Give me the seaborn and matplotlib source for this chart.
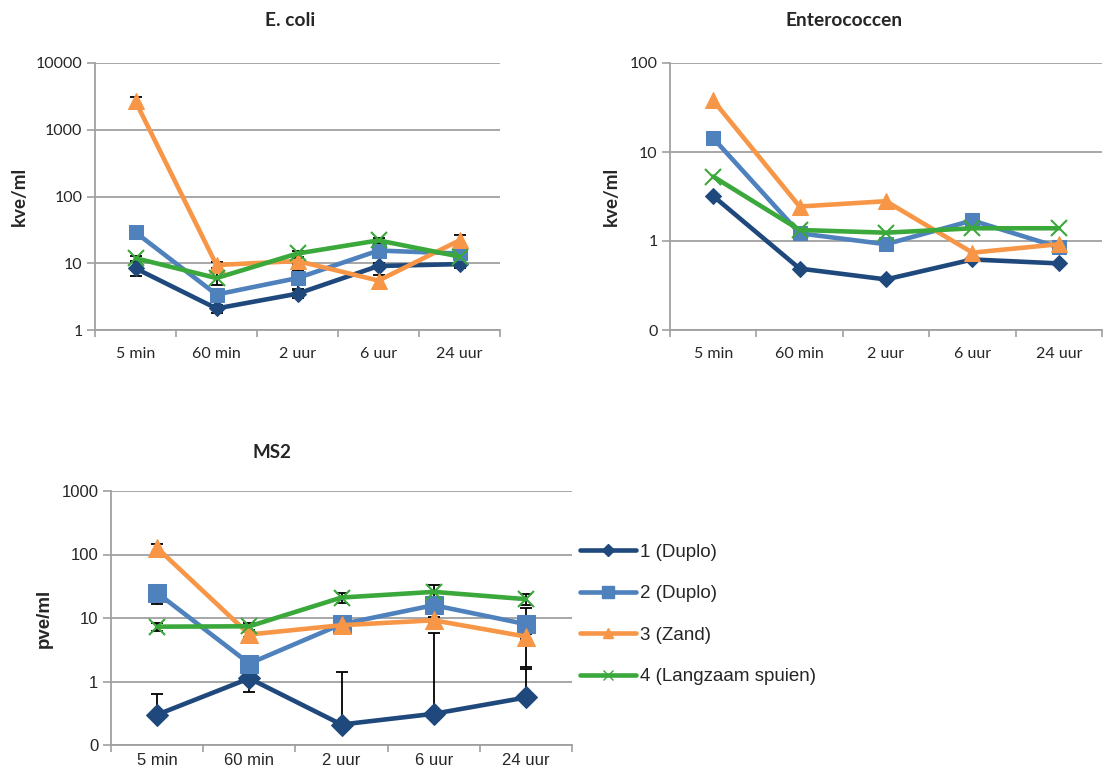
import numpy as np
import pandas as pd
import matplotlib
matplotlib.use("Agg")
import matplotlib.pyplot as plt
import seaborn as sns
from matplotlib.lines import Line2D

sns.set_theme(style="white")
plt.rcParams['font.family'] = ['Lato', 'DejaVu Sans']

categories = ["5 min", "60 min", "2 uur", "6 uur", "24 uur"]
series_names = ["1 (Duplo)", "2 (Duplo)", "3 (Zand)", "4 (Langzaam spuien)"]

# E. coli (kve/ml)
ecoli_1 = [8.4, 2.1, 3.5, 9.1, 9.7]
ecoli_2 = [29, 3.4, 6.0, 15.5, 14]
ecoli_3 = [2660, 9.4, 10.8, 5.5, 22]
ecoli_4 = [11.9, 6.0, 14, 22, 12.6]
ecoli_err_1 = [2.0, 0.3, 0.5, 1.0, 1.1]
ecoli_err_2 = [3, 0.5, 1.9, 2, 2]
ecoli_err_3 = [470, 1, 1, 1.2, 4.5]
ecoli_err_4 = [1, 1.2, 1.4, 2, 1]

# Enterococcen (kve/ml)
entero_1 = [3.2, 0.49, 0.37, 0.62, 0.56]
entero_2 = [14.3, 1.22, 0.92, 1.7, 0.85]
entero_3 = [38, 2.44, 2.8, 0.74, 0.92]
entero_4 = [5.3, 1.33, 1.24, 1.39, 1.39]

# MS2 (pve/ml)
ms2_1 = [0.30, 1.12, 0.21, 0.31, 0.56]
ms2_2 = [24.9, 1.92, 8.0, 15.9, 8.0]
ms2_3 = [127, 5.5, 7.7, 9.2, 5.1]
ms2_4 = [7.3, 7.4, 21, 25.8, 19.8]
ms2_err_1 = [0.33, 0.43, 1.21, 5.6, 1.0]
ms2_err_2 = [8, 0.3, 1, 3, 6.3]
ms2_err_3 = [18, 0.5, 1, 1, 0.5]
ms2_err_4 = [1, 1, 4, 7, 4]

colors = ["#1F497D", "#4F81BD", "#F79646", "#3BA83B"]
markers = ["D", "s", "^", "x"]

W, H = 1109, 776
fig = plt.figure(figsize=(W / 100, H / 100), dpi=100)

def px_axes(l, t, r, b):
    return fig.add_axes([l / W, 1 - b / H, (r - l) / W, (b - t) / H])

def style_axes(ax, ylim, yticks, yticklabels, font, fs):
    ax.set_yscale("log")
    ax.set_ylim(*ylim)
    ax.set_xlim(-0.5, 4.5)
    ax.set_yticks(yticks)
    ax.set_yticklabels(yticklabels, fontfamily=font, fontsize=fs)
    ax.yaxis.set_minor_locator(matplotlib.ticker.NullLocator())
    ax.set_xticks(range(len(categories)))
    ax.set_xticklabels(categories, fontfamily=font, fontsize=fs)
    ax.set_xticks(np.arange(-0.5, 5, 1.0), minor=True)
    ax.tick_params(axis="x", which="major", length=0, pad=12)
    ax.tick_params(axis="x", which="minor", length=5, color="#A0A0A0", width=1.2, direction="out", bottom=True)
    ax.tick_params(axis="y", which="major", length=6, color="#A0A0A0", width=1.2, direction="out", left=True, pad=3)
    for s in ["top", "right"]:
        ax.spines[s].set_visible(False)
    for s in ["left", "bottom"]:
        ax.spines[s].set_color("#A0A0A0")
        ax.spines[s].set_linewidth(1.3)
    ax.grid(axis="y", color="#A0A0A0", linewidth=1.3)
    ax.set_axisbelow(True)
    ax.set_xlabel("")

def draw_series(ax, data, errs, sizes, lw=3.3):
    x = np.arange(len(categories))
    for i, vals in enumerate(data):
        vals = np.array(vals, dtype=float)
        if errs is not None:
            e = np.array(errs[i], dtype=float)
            lower = np.where(e >= vals, 0.0, e)
            ax.errorbar(x, vals, yerr=[lower, e], fmt="none", ecolor="black",
                        elinewidth=1.3, capsize=4, capthick=1.3, zorder=2 + i * 0.1)
        df = pd.DataFrame({"x": x, "y": vals})
        mk = markers[i]
        kw = dict(markersize=sizes[i], markeredgecolor=colors[i], markerfacecolor=colors[i])
        if mk == "x":
            kw["markeredgewidth"] = 1.5
        sns.lineplot(data=df, x="x", y="y", ax=ax, color=colors[i], linewidth=lw,
                     marker=mk, zorder=3 + i, legend=False, **kw)

LAT = "Lato"
LIB = "Liberation Sans"

# E. coli
ax1 = px_axes(95, 63, 500, 330)
draw_series(ax1, [ecoli_1, ecoli_2, ecoli_3, ecoli_4],
            [ecoli_err_1, ecoli_err_2, ecoli_err_3, ecoli_err_4], [8, 10, 11, 11])
style_axes(ax1, (1, 10000), [1, 10, 100, 1000, 10000], ["1", "10", "100", "1000", "10000"], LAT, 11.5)
ax1.set_ylabel("kve/ml", fontweight="bold", fontsize=13.5, fontfamily=LAT, labelpad=6)
fig.text(290 / W, 1 - 20 / H, "E. coli", ha="center", va="center", fontweight="bold", fontsize=13.8, fontfamily=LAT)

# Enterococcen
ax2 = px_axes(670, 63, 1102, 330)
draw_series(ax2, [entero_1, entero_2, entero_3, entero_4], None, [8, 10, 11, 11])
style_axes(ax2, (0.1, 100), [0.1, 1, 10, 100], ["0", "1", "10", "100"], LAT, 11.5)
ax2.set_ylabel("kve/ml", fontweight="bold", fontsize=13.5, fontfamily=LAT, labelpad=7)
fig.text(844 / W, 1 - 20 / H, "Enterococcen", ha="center", va="center", fontweight="bold", fontsize=13.8, fontfamily=LAT)

# MS2
ax3 = px_axes(111, 491, 572, 745)
draw_series(ax3, [ms2_1, ms2_2, ms2_3, ms2_4],
            [ms2_err_1, ms2_err_2, ms2_err_3, ms2_err_4], [11, 13, 13, 12])
style_axes(ax3, (0.1, 1000), [0.1, 1, 10, 100, 1000], ["0", "1", "10", "100", "1000"], LIB, 12)
ax3.tick_params(axis="x", which="major", pad=6)
ax3.set_ylabel("pve/ml", fontweight="bold", fontsize=13.5, fontfamily=LIB, labelpad=6)
fig.text(272 / W, 1 - 452 / H, "MS2", ha="center", va="center", fontweight="bold", fontsize=13.5, fontfamily=LAT)

handles = [Line2D([0], [0], color=colors[i], linewidth=3.3, marker=markers[i],
                  markersize=[6, 9, 7, 7][i], markerfacecolor=colors[i], markeredgecolor=colors[i])
           for i in range(4)]
fig.legend(handles, series_names, loc="upper left", bbox_to_anchor=(572 / W, 1 - 536 / H),
           frameon=False, prop={"family": LIB, "size": 13.5},
           handlelength=3.0, handletextpad=0.25, labelspacing=1.3, borderaxespad=0)

fig.savefig("out.png", dpi=100)
